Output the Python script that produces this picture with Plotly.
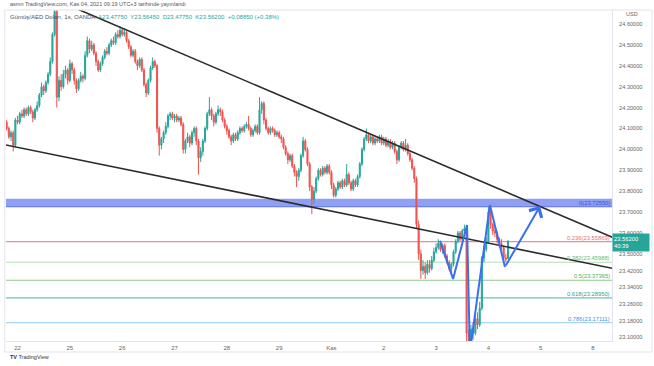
import plotly.graph_objects as go

# ---------------- data (hourly candles, index 0 = Oct 22 00:00, weekends skipped) ----------------
first_index = -5
closes = [
 24.10, 24.06, 24.08, 24.02, 24.14,
 24.13, 24.17, 24.16, 24.19, 24.17, 24.20, 24.18, 24.15, 24.19, 24.21, 24.26, 24.30, 24.28, 24.32, 24.36, 24.42, 24.55, 24.66, 24.25, 24.33, 24.30, 24.36, 24.38, 24.33,
 24.41, 24.38, 24.33, 24.29, 24.33, 24.35, 24.34, 24.45, 24.52, 24.48, 24.50, 24.46, 24.42, 24.38, 24.41, 24.44, 24.47, 24.46, 24.50, 24.52, 24.51, 24.55, 24.54, 24.57,
 24.55, 24.56, 24.52, 24.49, 24.45, 24.47, 24.42, 24.40, 24.43, 24.38, 24.31, 24.27, 24.33, 24.39, 24.42, 24.40, 24.10, 24.02, 24.05, 24.08, 24.11, 24.16, 24.17, 24.15,
 24.16, 24.14, 24.15, 24.12, 24.00, 24.04, 24.06, 24.03, 24.08, 24.10, 24.04, 23.96, 23.99, 24.04, 24.10, 24.17, 24.19, 24.16, 24.13, 24.17, 24.19, 24.18, 24.14, 24.11,
 24.09, 24.06, 24.04, 24.07, 24.05, 24.08, 24.10, 24.09, 24.11, 24.12, 24.10, 24.07, 24.09, 24.11, 24.08, 24.19, 24.22, 24.14, 24.10, 24.08, 24.10, 24.09, 24.07, 24.08,
 24.06, 24.05, 24.01, 23.98, 23.95, 23.97, 23.92, 23.89, 23.87, 23.90, 23.97, 24.04, 24.00, 23.93, 23.82, 23.76, 23.80, 23.86, 23.90, 23.88, 23.91, 23.89, 23.92, 23.89,
 23.83, 23.78, 23.81, 23.84, 23.82, 23.85, 23.83, 23.88, 23.84, 23.81, 23.85, 23.83, 23.87, 23.93, 24.00, 24.05, 24.07, 24.04, 24.06, 24.03, 24.05, 24.04, 24.06, 24.03,
 24.05, 24.02, 24.04, 24.01, 24.03, 23.99, 23.95, 24.01, 24.03, 24.00, 24.02, 23.98, 23.95, 23.91, 23.86, 23.64, 23.50, 23.42, 23.44, 23.41, 23.45, 23.43, 23.47, 23.51,
 23.53, 23.55, 23.52, 23.54, 23.49, 23.46, 23.43, 23.45, 23.51, 23.56, 23.60, 23.57, 23.61, 23.62, 23.12, 23.08, 23.14, 23.12, 23.19, 23.16, 23.24, 23.48, 23.52, 23.56,
 23.70, 23.64, 23.61, 23.60, 23.57, 23.55, 23.53, 23.48, 23.4735, 23.562,
]
highs = [
 24.14, 24.11, 24.09, 24.09, 24.15,
 24.16, 24.18, 24.19, 24.20, 24.20, 24.21, 24.21, 24.19, 24.20, 24.23, 24.27, 24.32, 24.31, 24.33, 24.37, 24.44, 24.56, 24.67, 24.67, 24.35, 24.36, 24.38, 24.40, 24.39,
 24.43, 24.42, 24.39, 24.34, 24.34, 24.37, 24.36, 24.47, 24.54, 24.53, 24.52, 24.51, 24.47, 24.43, 24.42, 24.45, 24.48, 24.49, 24.51, 24.53, 24.54, 24.56, 24.57, 24.59,
 24.58, 24.58, 24.57, 24.53, 24.50, 24.48, 24.48, 24.43, 24.44, 24.44, 24.39, 24.32, 24.34, 24.40, 24.44, 24.43, 24.41, 24.11, 24.06, 24.09, 24.13, 24.17, 24.18, 24.18,
 24.17, 24.17, 24.16, 24.16, 24.13, 24.05, 24.08, 24.07, 24.09, 24.11, 24.11, 24.05, 24.01, 24.05, 24.11, 24.18, 24.25, 24.20, 24.17, 24.18, 24.21, 24.20, 24.19, 24.15,
 24.12, 24.10, 24.07, 24.08, 24.08, 24.09, 24.11, 24.11, 24.12, 24.13, 24.16, 24.11, 24.10, 24.12, 24.12, 24.25, 24.23, 24.23, 24.15, 24.11, 24.11, 24.11, 24.10, 24.09,
 24.09, 24.07, 24.06, 24.02, 23.99, 23.98, 23.98, 23.93, 23.90, 23.91, 23.98, 24.06, 24.05, 24.01, 23.94, 23.83, 23.82, 23.87, 23.91, 23.91, 23.92, 23.92, 23.93, 23.93,
 23.90, 23.84, 23.82, 23.85, 23.85, 23.86, 23.86, 23.93, 23.89, 23.85, 23.86, 23.86, 23.88, 23.94, 24.01, 24.06, 24.10, 24.08, 24.07, 24.07, 24.06, 24.06, 24.07, 24.07,
 24.06, 24.06, 24.05, 24.05, 24.04, 24.04, 24.00, 24.02, 24.04, 24.04, 24.05, 24.03, 23.99, 23.96, 23.92, 23.87, 23.66, 23.52, 23.47, 23.46, 23.47, 23.47, 23.49, 23.53,
 23.55, 23.57, 23.56, 23.55, 23.55, 23.50, 23.47, 23.46, 23.52, 23.57, 23.61, 23.61, 23.62, 23.64, 23.63, 23.14, 23.16, 23.17, 23.21, 23.22, 23.27, 23.49, 23.54, 23.58,
 23.7255, 23.71, 23.65, 23.63, 23.61, 23.58, 23.57, 23.54, 23.50, 23.5645,
]
lows = [
 24.09, 24.05, 24.04, 23.99, 24.01,
 24.12, 24.12, 24.15, 24.15, 24.16, 24.16, 24.17, 24.13, 24.14, 24.18, 24.20, 24.25, 24.26, 24.27, 24.31, 24.35, 24.41, 24.54, 24.20, 24.23, 24.28, 24.29, 24.34, 24.31,
 24.32, 24.36, 24.31, 24.27, 24.28, 24.32, 24.32, 24.33, 24.44, 24.46, 24.47, 24.45, 24.40, 24.37, 24.37, 24.40, 24.43, 24.45, 24.45, 24.49, 24.50, 24.50, 24.53, 24.53,
 24.54, 24.54, 24.51, 24.48, 24.44, 24.44, 24.41, 24.38, 24.39, 24.37, 24.30, 24.25, 24.26, 24.32, 24.38, 24.39, 24.08, 23.97, 24.00, 24.03, 24.07, 24.10, 24.14, 24.14,
 24.13, 24.13, 24.13, 24.11, 23.98, 23.98, 24.03, 24.01, 24.02, 24.06, 24.02, 23.88, 23.94, 23.97, 24.03, 24.09, 24.16, 24.14, 24.11, 24.12, 24.16, 24.16, 24.13, 24.10,
 24.07, 24.05, 24.02, 24.03, 24.04, 24.04, 24.07, 24.08, 24.08, 24.10, 24.09, 24.06, 24.06, 24.08, 24.07, 24.07, 24.17, 24.12, 24.09, 24.07, 24.07, 24.08, 24.06, 24.06,
 24.05, 24.03, 24.00, 23.97, 23.93, 23.94, 23.91, 23.87, 23.82, 23.85, 23.89, 23.96, 23.99, 23.92, 23.80, 23.69, 23.74, 23.79, 23.85, 23.87, 23.87, 23.88, 23.88, 23.88,
 23.81, 23.77, 23.77, 23.80, 23.81, 23.81, 23.82, 23.82, 23.83, 23.80, 23.80, 23.82, 23.82, 23.86, 23.92, 23.99, 24.04, 24.03, 24.03, 24.02, 24.02, 24.03, 24.03, 24.02,
 24.02, 24.01, 24.01, 24.00, 24.00, 23.98, 23.93, 23.94, 24.00, 23.99, 23.99, 23.97, 23.94, 23.90, 23.84, 23.62, 23.47, 23.38, 23.40, 23.38, 23.40, 23.41, 23.42, 23.46,
 23.50, 23.52, 23.51, 23.50, 23.48, 23.45, 23.42, 23.41, 23.44, 23.50, 23.55, 23.56, 23.56, 23.59, 23.03, 23.02, 23.06, 23.09, 23.11, 23.14, 23.15, 23.23, 23.46, 23.51,
 23.55, 23.62, 23.59, 23.58, 23.55, 23.53, 23.52, 23.46, 23.46, 23.4775,
]
first_open = 24.13
last_open = 23.4775
# hourly FX candles open at the previous close
opens = [first_open] + closes[:-1]
opens[-1] = last_open

assert len(closes) == len(highs) == len(lows), (len(closes), len(highs), len(lows))
idx = list(range(first_index, first_index + len(closes)))

day_labels = ['22', '25', '26', '27', '28', '29', 'Kas', '2', '3', '4', '5', '8']
day_index = [0, 24, 48, 72, 96, 120, 144, 168, 192, 216, 240, 264]

price_ticks = [24.6, 24.5, 24.4, 24.3, 24.2, 24.1, 24.0, 23.9, 23.8, 23.7, 23.6, 23.5,
               23.42, 23.34, 23.26, 23.18, 23.10]

fib_ratios = ['0', '0.236', '0.382', '0.5', '0.618', '0.786']
fib_prices = [23.72550, 23.55869, 23.45988, 23.37365, 23.28950, 23.17111]
fib_line_colors = ['#5b6fe8', '#f28b8b', '#b3deb3', '#8cca8c', '#6fc2b2', '#a9d3f2']
fib_text_colors = ['#3f51d8', '#e57373', '#66bb6a', '#4caf50', '#26a69a', '#4a90e2']
band_top = 23.764

upper_x = [25, 275]
upper_y = [24.6825, 23.5697]
lower_x = [-6, 275]
lower_y = [24.0225, 23.4262]

path_x = [193.8, 199.8, 206.2, 207.5, 216.7, 223.6]
path_y = [23.562, 23.380, 23.638, 23.03, 23.734, 23.437]
arrow_tip = (239.7, 23.729)

last_price = 23.562

# ---------------- figure ----------------
fig = go.Figure()

fig.add_trace(go.Candlestick(
    x=idx, open=opens, high=highs, low=lows, close=closes,
    increasing=dict(line=dict(color='#26a69a', width=1), fillcolor='#26a69a'),
    decreasing=dict(line=dict(color='#ef5350', width=1), fillcolor='#ef5350'),
    whiskerwidth=0, hoverinfo='skip', showlegend=False,
))

shapes = []
# blue zone at fib 0
shapes.append(dict(type='rect', xref='paper', x0=0, x1=1, yref='y', y0=fib_prices[0], y1=band_top,
                   fillcolor='rgba(100,124,240,0.72)', line=dict(width=0), layer='below'))
for p, c in zip(fib_prices, fib_line_colors):
    shapes.append(dict(type='line', xref='paper', x0=0, x1=1, yref='y', y0=p, y1=p,
                       line=dict(color=c, width=1.2), layer='below'))
# outer frame
shapes.append(dict(type='rect', xref='paper', yref='paper', x0=-0.002, x1=1.066, y0=-0.0332, y1=1.0,
                   line=dict(color='#e0e3eb', width=1), fillcolor='rgba(0,0,0,0)'))
fig.update_layout(shapes=shapes)

# trend lines
fig.add_trace(go.Scatter(x=upper_x, y=upper_y, mode='lines', line=dict(color='#2b2b2b', width=1.6),
                         hoverinfo='skip', showlegend=False))
fig.add_trace(go.Scatter(x=lower_x, y=lower_y, mode='lines', line=dict(color='#2b2b2b', width=1.6),
                         hoverinfo='skip', showlegend=False))
# blue projection path
fig.add_trace(go.Scatter(x=path_x, y=path_y, mode='lines', line=dict(color='#3a6ff0', width=2),
                         hoverinfo='skip', showlegend=False))

ann = []
ann.append(dict(x=arrow_tip[0], y=arrow_tip[1], xref='x', yref='y',
                ax=path_x[-1], ay=path_y[-1], axref='x', ayref='y',
                showarrow=True, arrowhead=4, arrowsize=1.4, arrowwidth=2, arrowcolor='#3a6ff0',
                standoff=0, startstandoff=0, text=''))
for r, p, c in zip(fib_ratios, fib_prices, fib_text_colors):
    ann.append(dict(x=1, xref='paper', y=p, yref='y', xanchor='right', yanchor='bottom',
                    text=f'{r}({p:.5f})', showarrow=False, font=dict(size=5.8, color=c), yshift=-1))

# header texts
ann.append(dict(x=0.003, xref='paper', y=1, yref='paper', xanchor='left', yanchor='bottom', yshift=1,
                text='asmn TradingView.com, Kas 04, 2021 09:19 UTC+3 tarihinde yayınlandı',
                showarrow=False, font=dict(size=5.5, color='#555')))
ann.append(dict(x=0.003, xref='paper', y=1, yref='paper', xanchor='left', yanchor='top', yshift=-2,
                text=('<span style="color:#555">Gümüş/AED Doları, 1s, OANDA</span>  '
                      '<span style="color:#26a69a">A23.47750  Y23.56450  D23.47750  K23.56200  +0.08850 (+0.38%)</span>'),
                showarrow=False, font=dict(size=6)))
# last price box
ann.append(dict(x=1, xref='paper', y=last_price, yref='y', xanchor='left', yanchor='middle', xshift=0, yshift=-2,
                text=f'{last_price:.5f}<br>40:39', showarrow=False, align='left',
                width=34, height=15, bgcolor='#26a69a', font=dict(size=5.8, color='white'), borderpad=1))
# currency
ann.append(dict(x=1, xref='paper', y=1, yref='paper', xanchor='left', yanchor='top', xshift=12, yshift=1,
                text='USD', showarrow=False, font=dict(size=5.5, color='#666')))
# TradingView logo
ann.append(dict(x=0.003, xref='paper', y=-0.048, yref='paper', xanchor='left', yanchor='middle',
                text='<b>TV</b> TradingView', showarrow=False, font=dict(size=5.5, color='#333')))
fig.update_layout(annotations=ann)

fig.update_layout(
    width=654, height=366,
    margin=dict(l=6, r=42, t=10, b=25),
    paper_bgcolor='white', plot_bgcolor='white',
    font=dict(family='Liberation Sans, Arial, sans-serif'),
    showlegend=False,
    xaxis=dict(range=[-5.3, 272.7], tickvals=day_index, ticktext=day_labels,
               showgrid=False, zeroline=False, showline=True, linecolor='#e0e3eb', linewidth=1,
               ticks='', ticklabelstandoff=1, tickfont=dict(size=6, color='#666'),
               rangeslider=dict(visible=False), fixedrange=True),
    yaxis=dict(range=[23.083, 24.667], side='right', tickvals=price_ticks,
               ticktext=[f'{v:.5f}' for v in price_ticks],
               showgrid=False, zeroline=False, showline=True, linecolor='#e0e3eb', linewidth=1,
               ticks='', ticklabelstandoff=5, tickfont=dict(size=5.6, color='#666'), fixedrange=True),
)

fig.write_html('out.html', config={'displayModeBar': False},
               post_script="document.body.style.margin='0px';")
